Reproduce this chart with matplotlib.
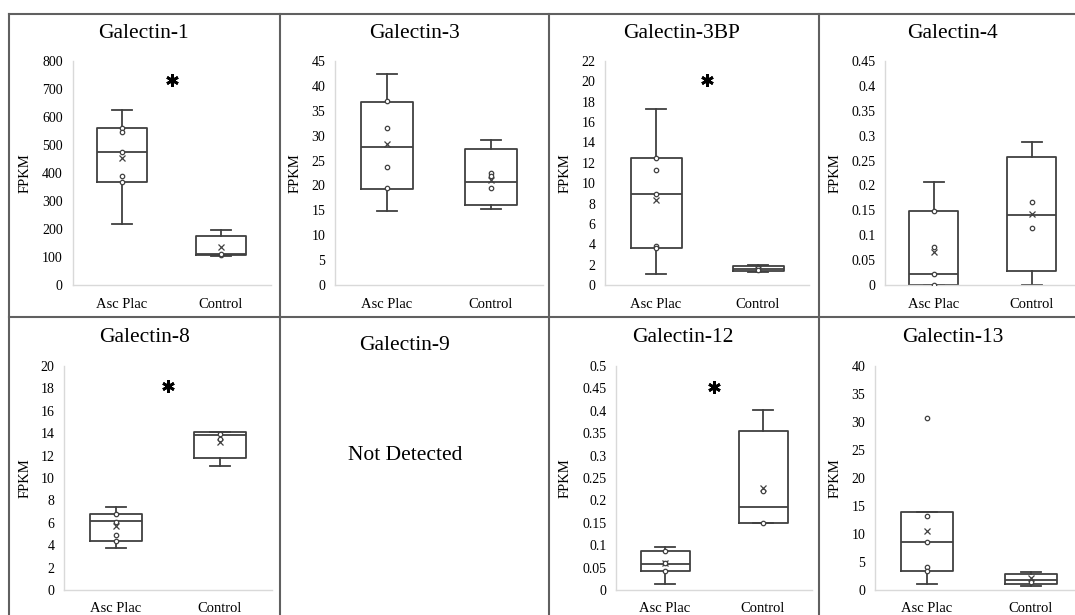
import matplotlib
matplotlib.use('Agg')
import matplotlib.pyplot as plt
from matplotlib.lines import Line2D
from matplotlib.ticker import FuncFormatter

# chart values
titles = ['Galectin-1', 'Galectin-3', 'Galectin-3BP', 'Galectin-4',
          'Galectin-8', 'Galectin-9', 'Galectin-12', 'Galectin-13']
categories = ['Asc Plac', 'Control']

# [whislo, q1, median, q3, whishi, mean]
asc_stats = [
    [217, 368, 476, 562, 625, 454],
    [14.9, 19.2, 27.7, 36.7, 42.4, 28.3],
    [1.1, 3.6, 8.9, 12.5, 17.25, 8.35],
    [0.0, 0.0, 0.022, 0.149, 0.206, 0.066],
    [3.75, 4.4, 6.13, 6.82, 7.38, 5.74],
    None,
    [0.013, 0.042, 0.057, 0.086, 0.097, 0.06],
    [1.1, 3.45, 8.5, 13.9, 13.9, 10.6],
]
ctrl_stats = [
    [105, 107, 110, 174, 196, 135],
    [15.2, 16.1, 20.6, 27.3, 29.1, 21.1],
    [1.25, 1.35, 1.6, 1.9, 2.0, 1.6],
    [0.0, 0.028, 0.141, 0.258, 0.288, 0.142],
    [11.1, 11.8, 13.84, 14.1, 14.1, 13.2],
    None,
    [0.149, 0.15, 0.185, 0.355, 0.402, 0.227],
    [0.8, 1.0, 1.85, 2.9, 3.15, 2.2],
]
asc_points = [
    [562, 545, 474, 390, 368],
    [36.9, 31.6, 23.7, 19.4],
    [12.5, 11.3, 8.9, 3.8, 3.6],
    [0.149, 0.077, 0.022, 0.0],
    [6.75, 6.1, 4.9, 4.4],
    [],
    [0.087, 0.06, 0.043],
    [30.65, 13.15, 8.5, 4.05, 3.45],
]
ctrl_points = [
    [108, 112],
    [22.4, 21.9, 19.4],
    [1.7, 1.5],
    [0.166, 0.114],
    [13.9, 13.5],
    [],
    [0.22, 0.15],
    [1.5],
]
star_y = [732, None, 20.1, None, 18.2, None, 0.454, None]
y_max = [800, 45, 22, 0.45, 20, None, 0.5, 40]
y_step = [100, 5, 2, 0.05, 2, None, 0.05, 5]

# layout in pixels: plot left, right, top, bottom
W, H = 1075, 615
plot_px = [
    (72.5, 270.5, 61, 285), (335, 543, 61, 285), (605, 809, 61, 285), (885, 1081, 61, 285),
    (64, 272, 366, 590), None, (616, 812, 366, 590), (875, 1083, 366, 590),
]
title_px = [(143, 33), (414, 33), (682, 33), (953, 33),
            (145, 338), (405, 345), (683, 338), (953, 338)]
ylabel_px = [(25, 173), (295, 173), (565, 173), (835, 173),
             (25, 478), None, (565, 478), (835, 478)]

serif = ['Liberation Serif', 'DejaVu Serif']
box_color = '#404040'
axis_color = '#d9d9d9'


def fx(x):
    return x / W


def fy(y):
    return 1 - y / H


def make_stats(s):
    return dict(whislo=s[0], q1=s[1], med=s[2], q3=s[3], whishi=s[4], mean=s[5], fliers=[])


fig = plt.figure(figsize=(W / 100, H / 100), dpi=100)

for i in range(8):
    tx, ty = title_px[i]
    fig.text(fx(tx), fy(ty), titles[i], family=serif, fontsize=15.5, ha='center', va='center')
    if plot_px[i] is None:
        fig.text(fx(405), fy(455), 'Not Detected', family=serif, fontsize=15.5,
                 ha='center', va='center')
        continue
    l, r, t, b = plot_px[i]
    ax = fig.add_axes([fx(l), fy(b), (r - l) / W, (b - t) / H])
    lw = 1.3
    ax.bxp([make_stats(asc_stats[i]), make_stats(ctrl_stats[i])], positions=[1, 2],
           widths=0.5, capwidths=0.2, showmeans=True, showfliers=False,
           boxprops=dict(color=box_color, linewidth=lw),
           whiskerprops=dict(color=box_color, linewidth=lw),
           capprops=dict(color=box_color, linewidth=lw),
           medianprops=dict(color=box_color, linewidth=lw),
           meanprops=dict(marker='x', markersize=5, markeredgecolor=box_color,
                          markeredgewidth=0.9))
    for pos, pts in [(1, asc_points[i]), (2, ctrl_points[i])]:
        ax.plot([pos] * len(pts), pts, 'o', markersize=3.2, markerfacecolor='white',
                markeredgecolor=box_color, markeredgewidth=0.9, linestyle='none', zorder=4)
    if star_y[i] is not None:
        ax.plot([1.5], [star_y[i]], marker=(6, 2, 0), markersize=9, color='black',
                markeredgewidth=2.0, linestyle='none')
    ax.set_xlim(0.5, 2.5)
    ax.set_ylim(0, y_max[i])
    n = round(y_max[i] / y_step[i])
    ax.set_yticks([k * y_step[i] for k in range(n + 1)])
    ax.yaxis.set_major_formatter(FuncFormatter(lambda v, p: '{:g}'.format(round(v, 4))))
    ax.set_xticks([1, 2])
    ax.set_xticklabels(categories)
    for lab in ax.get_yticklabels():
        lab.set_family(serif)
        lab.set_fontsize(10)
    for lab in ax.get_xticklabels():
        lab.set_family(serif)
        lab.set_fontsize(10.5)
    ax.tick_params(axis='y', length=0, pad=7)
    ax.tick_params(axis='x', length=0, pad=9)
    for side in ['top', 'right']:
        ax.spines[side].set_visible(False)
    for side in ['left', 'bottom']:
        ax.spines[side].set_color(axis_color)
        ax.spines[side].set_linewidth(1.0)
    ax.patch.set_alpha(0)
    yx, yy = ylabel_px[i]
    fig.text(fx(yx), fy(yy), 'FPKM', family=serif, fontsize=10.5, rotation=90,
             ha='center', va='center')

# panel borders
border = dict(color='#606060', linewidth=1.5)
fig.add_artist(Line2D([fx(9), 1], [fy(14), fy(14)], **border))
fig.add_artist(Line2D([fx(9), 1], [fy(317), fy(317)], **border))
for x in [9, 279.5, 549, 819]:
    fig.add_artist(Line2D([fx(x), fx(x)], [fy(14), 0], **border))

fig.savefig('out.png', dpi=100)
